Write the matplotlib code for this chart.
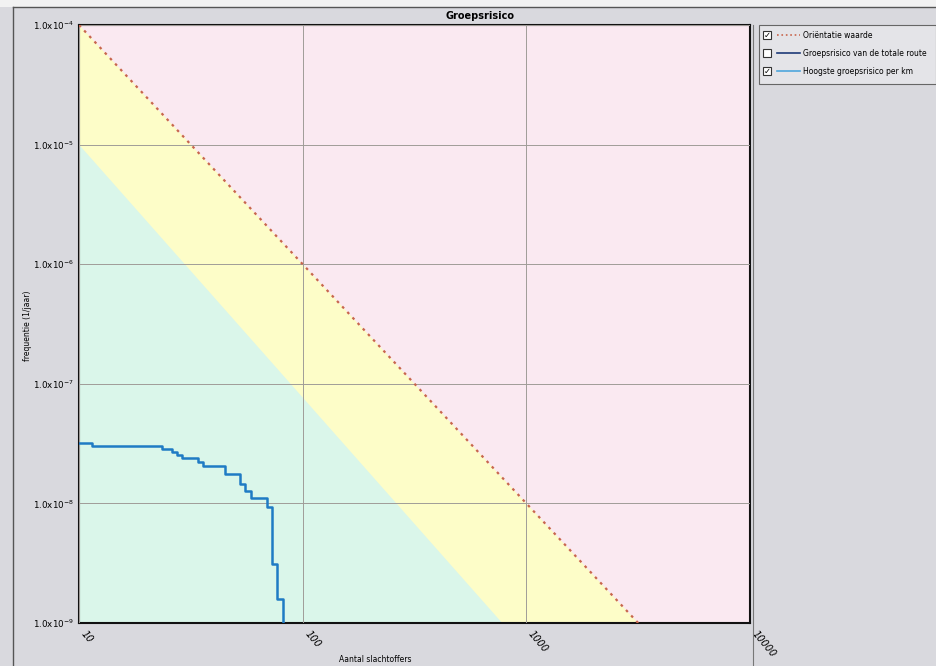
import matplotlib.pyplot as plt
from matplotlib.lines import Line2D
from matplotlib.patches import Rectangle

# Hoogste groepsrisico per km (trapfunctie)
slachtoffers = [10, 11.4, 23.5, 26.0, 27.4, 28.8, 34.0, 35.8, 45.0, 52.5,
                55.2, 58.7, 69.2, 72.9, 76.8, 81.7]
frequentie = [3.2e-8, 3.0e-8, 2.85e-8, 2.7e-8, 2.55e-8, 2.38e-8, 2.2e-8,
              2.05e-8, 1.76e-8, 1.45e-8, 1.26e-8, 1.1e-8, 9.3e-9, 3.1e-9,
              1.6e-9, 1e-10]

# Oriëntatiewaarde (lijn) en ondergrens van de gele band
orient_n = [10, 10000]
orient_f = [1e-4, 1e-10]
band_n = [10, 780, 10000]
band_f = [1e-5, 1e-9, 1e-11]

x_ticks = [10, 100, 1000, 10000]
x_labels = ["10", "100", "1000", "10000"]
y_ticks = [1e-9, 1e-8, 1e-7, 1e-6, 1e-5, 1e-4]
y_labels = [r"1.0x10$^{-9}$", r"1.0x10$^{-8}$", r"1.0x10$^{-7}$",
            r"1.0x10$^{-6}$", r"1.0x10$^{-5}$", r"1.0x10$^{-4}$"]

legenda = ["Oriëntatie waarde", "Groepsrisico van de totale route",
           "Hoogste groepsrisico per km"]
legenda_kleur = ["#c8664e", "#1d3a78", "#4ea6dc"]
legenda_stijl = [":", "-", "-"]
aangevinkt = [True, False, True]

paneel = "#d9d9de"
fig = plt.figure(figsize=(9.36, 6.66), dpi=100, facecolor=paneel)

# paneelranden
fig.add_artist(Rectangle((0, 1 - 7 / 666), 1, 7 / 666, transform=fig.transFigure,
                         facecolor="#f2f2f2", edgecolor="none"))
fig.add_artist(Line2D([13 / 936, 1], [1 - 7 / 666, 1 - 7 / 666],
                      transform=fig.transFigure, color="#555555", lw=1))
fig.add_artist(Line2D([13 / 936, 13 / 936], [0, 1 - 7 / 666],
                      transform=fig.transFigure, color="#555555", lw=1))
fig.add_artist(Line2D([753 / 936, 753 / 936], [0, 1 - 25 / 666],
                      transform=fig.transFigure, color="#777777", lw=0.8))

ax = fig.add_axes([79 / 936, 1 - 623 / 666, 671 / 936, 598 / 666])
ax.set_xscale("log")
ax.set_yscale("log")
ax.set_xlim(10, 10000)
ax.set_ylim(1e-9, 1e-4)
ax.set_facecolor("#fae9f1")

# gekleurde zones
ax.fill_between(orient_n, 1e-12, orient_f, color="#fdfdc8", lw=0, zorder=0)
ax.fill_between(band_n, 1e-12, band_f, color="#daf6ea", lw=0, zorder=0)

ax.grid(True, which="major", color="#a09c98", lw=0.7, zorder=1)
ax.set_axisbelow(False)

ax.plot(orient_n, orient_f, linestyle=(0, (1.2, 2.2)), color="#c8664e",
        lw=1.6, zorder=3)
ax.plot(slachtoffers, frequentie, drawstyle="steps-post", color="#1f7bc4",
        lw=1.8, zorder=4)

ax.set_xticks(x_ticks)
ax.set_xticklabels(x_labels, rotation=-50, ha="left", va="top",
                   fontsize=7, style="italic")
ax.set_yticks(y_ticks)
ax.set_yticklabels(y_labels, fontsize=6.3)
ax.minorticks_off()
ax.tick_params(length=0, pad=4)
for s in ax.spines.values():
    s.set_linewidth(1.5)
    s.set_color("#111111")

fig.text(480 / 936, 1 - 16 / 666, "Groepsrisico", ha="center", va="center",
         fontsize=7, fontweight="bold")
fig.text(27 / 936, 1 - 326 / 666, "frequentie (1/jaar)", rotation=90,
         ha="center", va="center", fontsize=5.5)
fig.text(375 / 936, 1 - 660 / 666, "Aantal slachtoffers", ha="center",
         va="center", fontsize=5.5)

# legenda rechtsboven
fig.add_artist(Rectangle((759 / 936, 1 - 84 / 666), 177 / 936, 59 / 666,
                         transform=fig.transFigure, facecolor="#e4e4e8",
                         edgecolor="#666666", lw=0.8))
rij_y = [35, 53, 71]
for naam, kleur, stijl, vink, y in zip(legenda, legenda_kleur, legenda_stijl,
                                         aangevinkt, rij_y):
    fy = 1 - y / 666
    fig.add_artist(Rectangle((763 / 936, fy - 4 / 666), 8 / 936, 8 / 666,
                             transform=fig.transFigure, facecolor="white",
                             edgecolor="#333333", lw=0.8))
    if vink:
        fig.text(767 / 936, fy, "✓", ha="center", va="center", fontsize=6,
                 fontweight="bold")
    fig.add_artist(Line2D([777 / 936, 800 / 936], [fy, fy],
                          transform=fig.transFigure, color=kleur,
                          linestyle=stijl, lw=1.2))
    fig.text(803 / 936, fy, naam, ha="left", va="center", fontsize=5.5)

fig.savefig("out.png", dpi=100, facecolor=paneel)
